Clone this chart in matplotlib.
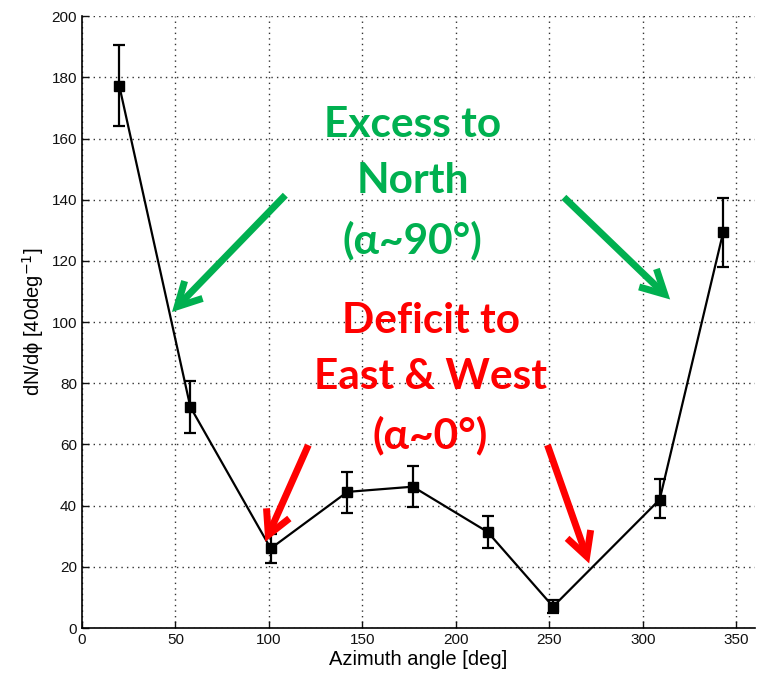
import matplotlib
matplotlib.use("Agg")
import matplotlib.pyplot as plt
import numpy as np

# azimuthal distribution, 40 deg bins
azimuth = [20, 58, 101, 142, 177, 217, 252, 309, 343]
dn_dphi = [177.3, 72.3, 26.0, 44.5, 46.2, 31.4, 7.0, 42.0, 129.5]
err_lo = [13.3, 8.5, 4.7, 6.8, 6.8, 5.3, 2.0, 6.2, 11.6]
err_hi = [13.2, 8.4, 4.7, 6.6, 6.8, 5.2, 2.0, 6.7, 11.2]

xticks = [0, 50, 100, 150, 200, 250, 300, 350]
yticks = [0, 20, 40, 60, 80, 100, 120, 140, 160, 180, 200]

green = "#00B050"
red = "#FF0000"

north_text = "Excess to\nNorth\n(\u03b1~90\u00b0)"
ew_text = "Deficit to\nEast & West\n(\u03b1~0\u00b0)"
# (tail, head) pairs for the callout arrows
north_arrows = [((108.8, 141.5), (48.2, 103.3)), ((257.8, 140.8), (314.6, 107.4))]
ew_arrows = [((121.1, 59.8), (98.1, 28.2)), ((249.0, 59.8), (271.3, 21.1))]

fig = plt.figure(figsize=(7.65, 6.76), dpi=100)
ax = fig.add_axes([0.107, 0.071, 0.88, 0.905])

ax.errorbar(azimuth, dn_dphi, yerr=[err_lo, err_hi], color="black", lw=1.6,
            elinewidth=1.6, capsize=4.5, capthick=1.6, marker="s", ms=7.5,
            mfc="black", mec="black", zorder=3)

ax.set_xlim(0, 360)
ax.set_ylim(0, 200)
ax.set_xticks(xticks)
ax.set_yticks(yticks)
ax.grid(True, ls=(0, (1, 3)), color="#333333", lw=1.0)
ax.spines["top"].set_visible(False)
ax.spines["right"].set_visible(False)
ax.spines["left"].set_linewidth(1.2)
ax.spines["bottom"].set_linewidth(1.2)
ax.tick_params(direction="in", length=5, width=1.0, labelsize=11, colors="#111111")
for lab in ax.get_xticklabels() + ax.get_yticklabels():
    lab.set_family("Liberation Sans")

ax.set_xlabel("Azimuth angle [deg]", fontsize=14.5, family="Liberation Sans", labelpad=2)
ax.set_ylabel("dN/d\u03d5 [40deg$^{-1}$]", fontsize=14.5,
              family=["Liberation Sans", "DejaVu Sans"], labelpad=4)

fam = ["Lato", "Open Sans", "DejaVu Sans"]
ax.text(176.8, 145.5, north_text, color=green, fontsize=30.5, fontweight="bold",
        family=fam, ha="center", va="center", linespacing=1.6, zorder=4)
ax.text(186.5, 81.5, ew_text, color=red, fontsize=30.5, fontweight="bold",
        family=fam, ha="center", va="center", linespacing=1.6, zorder=4)

arrow_style = "->,head_length=1.7,head_width=0.9"
for (tail, head) in north_arrows:
    ax.annotate("", xy=head, xytext=tail,
                arrowprops=dict(arrowstyle=arrow_style, color=green, lw=5,
                                shrinkA=0, shrinkB=0, joinstyle="miter",
                                capstyle="butt"), zorder=4)
for (tail, head) in ew_arrows:
    ax.annotate("", xy=head, xytext=tail,
                arrowprops=dict(arrowstyle=arrow_style, color=red, lw=5,
                                shrinkA=0, shrinkB=0, joinstyle="miter",
                                capstyle="butt"), zorder=4)

fig.savefig("out.png", dpi=100)
